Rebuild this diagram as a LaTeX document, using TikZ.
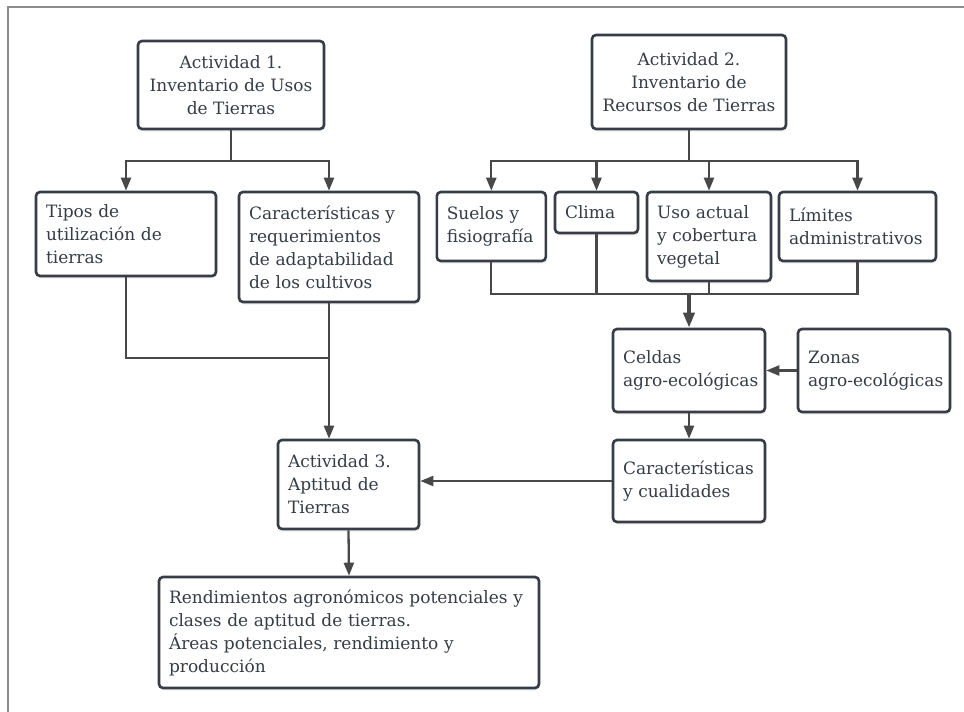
\documentclass[tikz,border=0pt]{standalone}
\usepackage{fontspec}
\setmainfont{DejaVu Serif}
\usetikzlibrary{arrows.meta,shadows,calc}
\definecolor{boxc}{HTML}{363D47}
\definecolor{txtc}{HTML}{343C46}
\definecolor{linec}{HTML}{484848}
\definecolor{framec}{HTML}{8C8C8C}
\begin{document}
\begin{tikzpicture}[x=1pt,y=-1pt,
  box/.style={draw=boxc, line width=2.6pt, rounded corners=4pt, fill=white, text=txtc,
    inner xsep=10pt, inner ysep=0pt, font=\fontsize{17}{23}\selectfont,
    drop shadow={opacity=0.12, shadow xshift=1pt, shadow yshift=-2.5pt}},
  lbox/.style={box, align=left},
  cbox/.style={box, align=center},
  conn/.style={draw=linec, line width=2.3pt},
  arr/.style={conn, -{Triangle[length=13pt,width=10pt]}},
  bigarr/.style={draw=linec, line width=4pt, -{Triangle[length=15pt,width=11pt]}},
]
\useasboundingbox (0,0) rectangle (964,712);
\draw[framec, line width=2pt] (8,712) -- (8,7) -- (964,7);

\node[cbox, minimum width=186pt, minimum height=88pt] (act1) at (231,85)
  {Actividad 1.\\Inventario de Usos\\de Tierras};
\node[cbox, minimum width=194pt, minimum height=94pt] (act2) at (689,82)
  {Actividad 2.\\Inventario de\\Recursos de Tierras};

\node[lbox, minimum width=180pt, minimum height=84pt, text width=160pt] (tipos) at (126,234)
  {Tipos de\\utilización de\\tierras};
\node[lbox, minimum width=180pt, minimum height=110pt, text width=160pt] (carac) at (329,247)
  {Características y\\requerimientos\\de adaptabilidad\\de los cultivos};

\node[lbox, minimum width=109pt, minimum height=69pt, text width=89pt] (suelos) at (491.3,226.5)
  {Suelos y\\fisiografía};
\node[lbox, minimum width=83pt, minimum height=41pt, text width=63pt] (clima) at (596.5,212.5)
  {Clima};
\node[lbox, minimum width=124pt, minimum height=89pt, text width=104pt] (uso) at (709,236.5)
  {Uso actual\\y cobertura\\vegetal};
\node[lbox, minimum width=157pt, minimum height=69pt, text width=137pt] (limites) at (857.5,226.5)
  {Límites\\\mbox{administrativos}};

\node[lbox, minimum width=152pt, minimum height=83pt, text width=132pt] (celdas) at (689,370.5)
  {Celdas\\\mbox{agro-ecológicas}};
\node[lbox, minimum width=152pt, minimum height=83pt, text width=132pt] (zonas) at (874,370.5)
  {Zonas\\\mbox{agro-ecológicas}};
\node[lbox, minimum width=152pt, minimum height=82pt, text width=132pt] (caracc) at (689,481)
  {Características\\y cualidades};

\node[lbox, minimum width=141pt, minimum height=89pt, text width=121pt] (act3) at (348.5,484.5)
  {Actividad 3.\\Aptitud de\\Tierras};
\node[lbox, minimum width=380pt, minimum height=111pt, text width=360pt] (rend) at (349,632.5)
  {Rendimientos agronómicos potenciales y\\clases de aptitud de tierras.\\Áreas potenciales, rendimiento y\\producción};

% Actividad 1 branches
\coordinate (j1) at (231,161);
\draw[conn] (act1.south) -- (j1);
\draw[arr] (j1) -| (tipos.north);
\draw[arr] (j1) -| (carac.north);

% Actividad 2 branches
\coordinate (j2) at (689,161);
\draw[conn] (act2.south) -- (j2);
\draw[arr] (j2) -| (suelos.north);
\draw[arr] (j2) -| (clima.north);
\draw[arr] (j2) -| (uso.north);
\draw[arr] (j2) -| (limites.north);

% collector to celdas
\path (celdas.north) ++(0,-34) coordinate (c2);
\draw[conn] (suelos.south) |- (c2);
\draw[conn] (limites.south) |- (c2);
\draw[conn] (clima.south) -- (clima.south |- c2);
\draw[conn] (uso.south) -- (uso.south |- c2);
\draw[bigarr] (c2) -- (celdas.north);

\draw[arr] (zonas.west) -- (celdas.east);
\draw[arr] (celdas.south) -- (caracc.north);
\draw[arr] (caracc.west) -- (caracc.west -| act3.east);

% left collector to actividad 3
\coordinate (l2) at (carac.south |- 0,358);
\draw[conn] (tipos.south) |- (l2);
\draw[arr] (carac.south) -- (carac.south |- act3.north);
\draw[arr] (act3.south) -- (rend.north);
\end{tikzpicture}
\end{document}
